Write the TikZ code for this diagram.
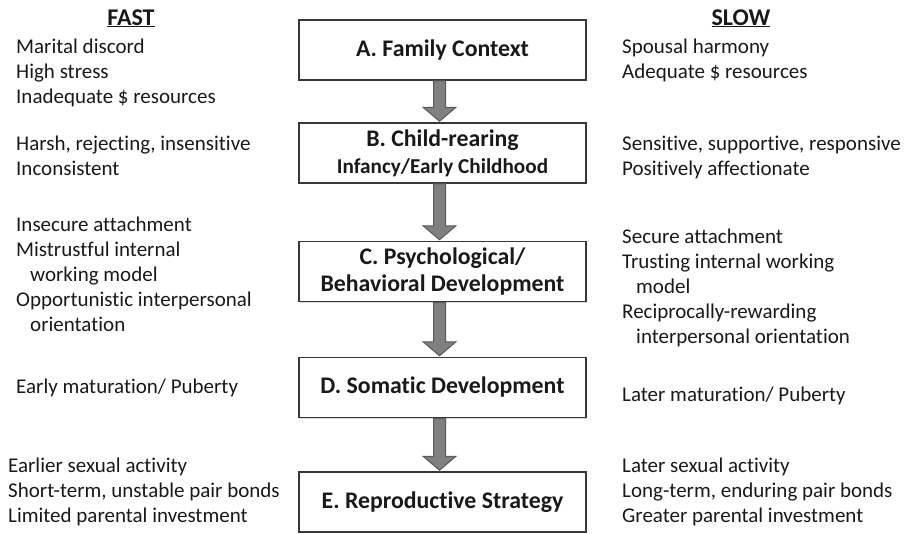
\documentclass[tikz,border=0pt]{standalone}
\usepackage{fontspec}
\setmainfont[Ligatures=NoCommon]{Carlito}
\usepackage{xcolor}
\usetikzlibrary{calc,shadows}

\tikzset{
  stage/.style={draw=black!78, line width=1.5pt, fill=white, minimum width=287pt,
    minimum height=60pt, inner sep=0pt, align=center, text=black!90,
    font=\fontsize{23.8}{27}\selectfont\bfseries,
    drop shadow={fill=black!30, shadow xshift=1.2pt, shadow yshift=-1.2pt}},
  notes/.style={anchor=north west, yshift=17.5pt, align=left, inner sep=0pt,
    text=black!90, font=\fontsize{21}{25}\selectfont},
  header/.style={anchor=base, inner sep=0pt, text=black!90,
    font=\fontsize{24}{28}\selectfont\bfseries},
  flow/.style={fill=black!50, draw=black!65, line width=1pt, line join=miter}
}
% block arrow from one stage to the next
\newcommand{\flowarrow}[2]{%
  \draw[flow] ($(#1.south)+(-9,0)$) -- ($(#2.north)+(-9,-15)$)
    -- ($(#2.north)+(-19.5,-15)$) -- ($(#2.north)+(-3,-1)$)
    -- ($(#2.north)+(13.5,-15)$) -- ($(#2.north)+(3,-15)$)
    -- ($(#1.south)+(3,0)$) -- cycle;}

\begin{document}
\begin{tikzpicture}[x=1pt, y=-1pt]
    \useasboundingbox (0,0) rectangle (904,533);

    % stages
    \node [stage] (famA) at (442.5,50) {A. Family Context};
    \node [stage] (rearB) at (442.5,153) {B. Child-rearing\\{\fontsize{21.2}{27}\selectfont Infancy/Early Childhood}};
    \node [stage] (psyC) at (442.5,271.5) {C. Psychological/\\Behavioral Development};
    \node [stage] (somD) at (442.5,387.5) {D. Somatic Development};
    \node [stage] (repE) at (442.5,502) {E. Reproductive Strategy};

    \flowarrow{famA}{rearB}
    \flowarrow{rearB}{psyC}
    \flowarrow{psyC}{somD}
    \flowarrow{somD}{repE}

    % fast side
    \node [header] (fast) at (131,25) {\underline{FAST}};
    \node [notes] (fastA) at (16,53) {\strut Marital discord\\High stress\\Inadequate \$ resources};
    \node [notes] (fastB) at (16,150) {\strut Harsh, rejecting, insensitive\\Inconsistent};
    \node [notes] (fastC) at (16,231) {\strut Insecure attachment\\Mistrustful internal\\\hspace*{14pt}working model\\Opportunistic interpersonal\\\hspace*{14pt}orientation};
    \node [notes] (fastD) at (16,393) {\strut Early maturation/ Puberty};
    \node [notes] (fastE) at (8,472) {\strut Earlier sexual activity\\Short-term, unstable pair bonds\\Limited parental investment};

    % slow side
    \node [header] (slow) at (741,25) {\underline{SLOW}};
    \node [notes] (slowA) at (622,53) {\strut Spousal harmony\\Adequate \$ resources};
    \node [notes] (slowB) at (622,150) {\strut Sensitive, supportive, responsive\\Positively affectionate};
    \node [notes] (slowC) at (622,243) {\strut Secure attachment\\Trusting internal working\\\hspace*{14pt}model\\Reciprocally-rewarding\\\hspace*{14pt}interpersonal orientation};
    \node [notes] (slowD) at (622,401) {\strut Later maturation/ Puberty};
    \node [notes] (slowE) at (622,472) {\strut Later sexual activity\\Long-term, enduring pair bonds\\Greater parental investment};
\end{tikzpicture}
\end{document}
